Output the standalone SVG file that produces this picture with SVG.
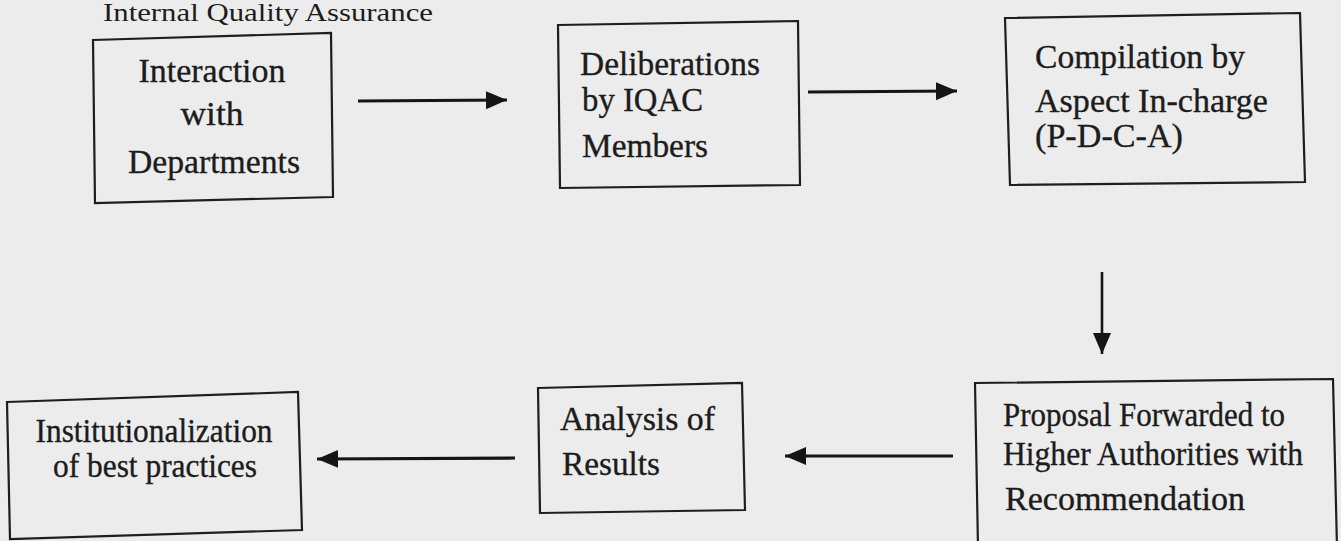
<svg xmlns="http://www.w3.org/2000/svg" width="1341" height="541" viewBox="0 0 1341 541">
<style>
.bg{fill:#ececec}
.box{fill:none;stroke:#1e1e1e;stroke-width:2.2}
.t{font-family:"Liberation Serif","Times New Roman",serif;font-size:34px;fill:#1c1c1c;stroke:#1c1c1c;stroke-width:0.35}
.c{text-anchor:middle}
.con{stroke:#151515;stroke-width:3.2;fill:none}
</style>
<defs>
<marker id="ah" markerUnits="userSpaceOnUse" markerWidth="24" markerHeight="20" refX="21" refY="9" orient="auto">
<path d="M0,0 L21,9 L0,18 Z" fill="#151515"/>
</marker>
</defs>
<rect class="bg" x="0" y="0" width="1341" height="541"/>
<text class="t" x="103" y="21" style="font-size:26px;stroke-width:0" textLength="330" lengthAdjust="spacingAndGlyphs">Internal Quality Assurance</text>

<g id="connectors">
<line class="con" x1="358" y1="101" x2="507" y2="100" marker-end="url(#ah)"/>
<line class="con" x1="808" y1="92" x2="957" y2="91" marker-end="url(#ah)"/>
<line class="con" x1="1102" y1="272" x2="1102" y2="354" marker-end="url(#ah)" style="stroke-width:2.6"/>
<line class="con" x1="953" y1="456" x2="785" y2="456" marker-end="url(#ah)"/>
<line class="con" x1="515" y1="458" x2="317" y2="459" marker-end="url(#ah)"/>
</g>

<g id="node-interaction">
<polygon class="box" points="93,40 331,33 333,197 95,203"/>
<text class="t c" x="212" y="82" textLength="147" lengthAdjust="spacingAndGlyphs">Interaction</text>
<text class="t c" x="212" y="125" textLength="63" lengthAdjust="spacingAndGlyphs">with</text>
<text class="t c" x="214" y="173" textLength="172" lengthAdjust="spacingAndGlyphs">Departments</text>
</g>

<g id="node-deliberations">
<polygon class="box" points="558,25 798,21 800,185 560,188"/>
<text class="t" x="580" y="75" textLength="180" lengthAdjust="spacingAndGlyphs">Deliberations</text>
<text class="t" x="582" y="111" textLength="121" lengthAdjust="spacingAndGlyphs">by IQAC</text>
<text class="t" x="582" y="157" textLength="126" lengthAdjust="spacingAndGlyphs">Members</text>
</g>

<g id="node-compilation">
<polygon class="box" points="1005,18 1300,13 1305,182 1010,185"/>
<text class="t" x="1035" y="68" textLength="210" lengthAdjust="spacingAndGlyphs">Compilation by</text>
<text class="t" x="1035" y="112" textLength="233" lengthAdjust="spacingAndGlyphs">Aspect In-charge</text>
<text class="t" x="1035" y="147" textLength="148" lengthAdjust="spacingAndGlyphs">(P-D-C-A)</text>
</g>

<g id="node-proposal">
<polygon class="box" points="975,383 1333,379 1337,548 978,548"/>
<text class="t" x="1003" y="426" textLength="282" lengthAdjust="spacingAndGlyphs">Proposal Forwarded to</text>
<text class="t" x="1003" y="465" textLength="300" lengthAdjust="spacingAndGlyphs">Higher Authorities with</text>
<text class="t" x="1005" y="510" textLength="240" lengthAdjust="spacingAndGlyphs">Recommendation</text>
</g>

<g id="node-analysis">
<polygon class="box" points="538,388 742,383 745,510 540,513"/>
<text class="t" x="560" y="430" textLength="155" lengthAdjust="spacingAndGlyphs">Analysis of</text>
<text class="t" x="562" y="475" textLength="98" lengthAdjust="spacingAndGlyphs">Results</text>
</g>

<g id="node-institutionalization">
<polygon class="box" points="7,402 298,392 302,530 10,539"/>
<text class="t c" x="154" y="442" textLength="237" lengthAdjust="spacingAndGlyphs">Institutionalization</text>
<text class="t c" x="155" y="477" textLength="204" lengthAdjust="spacingAndGlyphs">of best practices</text>
</g>
</svg>
